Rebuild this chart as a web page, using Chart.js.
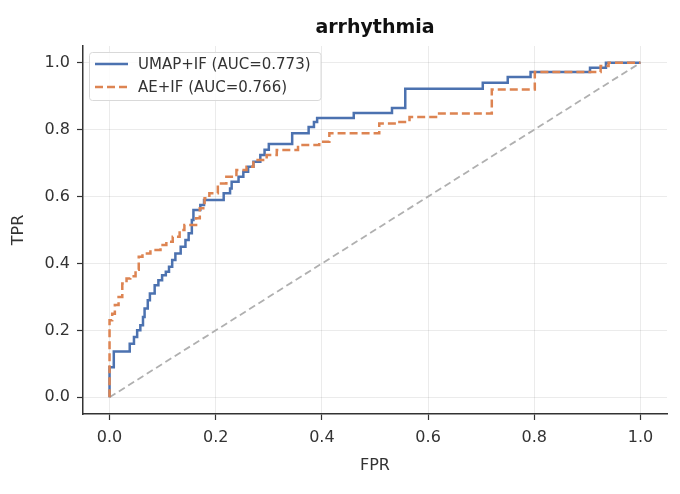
<!DOCTYPE html>
<html>
<head>
<meta charset="utf-8">
<script src="https://cdn.jsdelivr.net/npm/chart.js@4/dist/chart.umd.min.js"></script>
<style>
  html, body { margin: 0; padding: 0; background: #fff; }
  #wrap { width: 680px; height: 494px; }
</style>
</head>
<body>
<div id="wrap"><canvas id="roc"></canvas></div>
<script>
// ROC data
var chartTitle = "arrhythmia";
var tickValues = [0.0, 0.2, 0.4, 0.6, 0.8, 1.0];

var umapLabel = "UMAP+IF (AUC=0.773)";
var umapFpr = [0, 0, 0.008, 0.03, 0.038, 0.046, 0.052, 0.058, 0.063, 0.066, 0.072, 0.076, 0.085, 0.092, 0.099, 0.106, 0.112, 0.118, 0.124, 0.134, 0.143, 0.149, 0.155, 0.158, 0.168, 0.171, 0.178, 0.212, 0.215, 0.227, 0.23, 0.243, 0.252, 0.261, 0.271, 0.284, 0.292, 0.3, 0.344, 0.369, 0.375, 0.385, 0.391, 0.457, 0.46, 0.529, 0.532, 0.553, 0.557, 0.701, 0.703, 0.748, 0.75, 0.79, 0.793, 0.902, 0.905, 0.93, 0.935, 1.0];
var umapTpr = [0, 0.09, 0.137, 0.137, 0.16, 0.18, 0.2, 0.215, 0.24, 0.265, 0.29, 0.31, 0.335, 0.35, 0.365, 0.375, 0.39, 0.41, 0.43, 0.45, 0.47, 0.49, 0.53, 0.56, 0.56, 0.575, 0.59, 0.59, 0.61, 0.624, 0.644, 0.659, 0.674, 0.689, 0.704, 0.724, 0.74, 0.757, 0.789, 0.789, 0.808, 0.823, 0.835, 0.835, 0.85, 0.85, 0.865, 0.865, 0.922, 0.922, 0.94, 0.94, 0.957, 0.957, 0.972, 0.972, 0.985, 0.985, 1.0, 1.0];

var aeLabel = "AE+IF (AUC=0.766)";
var aeFpr = [0, 0, 0.005, 0.01, 0.017, 0.024, 0.032, 0.039, 0.049, 0.055, 0.062, 0.077, 0.096, 0.107, 0.119, 0.132, 0.141, 0.163, 0.17, 0.179, 0.188, 0.204, 0.22, 0.239, 0.258, 0.271, 0.296, 0.315, 0.355, 0.395, 0.414, 0.503, 0.508, 0.546, 0.565, 0.615, 0.71, 0.72, 0.795, 0.801, 0.905, 0.925, 0.94, 1.0];
var aeTpr = [0, 0.23, 0.25, 0.276, 0.3, 0.34, 0.355, 0.362, 0.381, 0.42, 0.43, 0.44, 0.455, 0.465, 0.48, 0.5, 0.515, 0.535, 0.565, 0.595, 0.61, 0.639, 0.659, 0.679, 0.689, 0.709, 0.724, 0.739, 0.754, 0.764, 0.789, 0.789, 0.818, 0.823, 0.838, 0.848, 0.848, 0.92, 0.92, 0.972, 0.972, 0.99, 1.0, 1.0];

var chanceFpr = [0, 1];
var chanceTpr = [0, 1];

var blue = "#4c72b0";
var orange = "#dd8452";
var fontName = "'DejaVu Sans', sans-serif";

function toPoints(xs, ys) {
	var pts = [];
	for (var i = 0; i < xs.length; i++) {
		pts.push({ x : xs[i], y : ys[i] });
	}
	return pts;
}

// title + legend drawn inside the plot, matplotlib style
var overlay = {
	id : "overlay",
	afterDraw : function(chart) {
		var ctx = chart.ctx;
		var a = chart.chartArea;
		ctx.save();

		ctx.font = "bold 19px " + fontName;
		ctx.fillStyle = "#111";
		ctx.textAlign = "center";
		ctx.textBaseline = "middle";
		ctx.fillText(chartTitle, (a.left + a.right) / 2, 28);

		var items = [
			{ text : umapLabel, color : blue, dash : [] },
			{ text : aeLabel, color : orange, dash : [8, 4] }
		];
		ctx.font = "15px " + fontName;
		var maxW = 0;
		items.forEach(function(it) { maxW = Math.max(maxW, ctx.measureText(it.text).width); });
		var bx = a.left + 6, by = a.top + 6;
		var bw = 49 + maxW + 10, bh = 48;
		ctx.beginPath();
		ctx.roundRect(bx + 0.5, by + 0.5, bw, bh, 3);
		ctx.fillStyle = "rgba(255,255,255,0.85)";
		ctx.fill();
		ctx.strokeStyle = "#d9d9d9";
		ctx.lineWidth = 1;
		ctx.stroke();

		ctx.textAlign = "left";
		items.forEach(function(it, i) {
			var y = by + 12 + i * 23;
			ctx.beginPath();
			ctx.setLineDash(it.dash);
			ctx.strokeStyle = it.color;
			ctx.lineWidth = 2.5;
			ctx.moveTo(bx + 6, y);
			ctx.lineTo(bx + 39, y);
			ctx.stroke();
			ctx.setLineDash([]);
			ctx.fillStyle = "#333";
			ctx.fillText(it.text, bx + 49, y + 1);
		});
		ctx.restore();
	}
};

function axisOptions(label, isY) {
	var opts = {
		type : "linear",
		min : -0.05,
		max : 1.05,
		afterBuildTicks : function(scale) {
			scale.ticks = tickValues.map(function(v) { return { value : v }; });
		},
		ticks : {
			callback : function(v) { return v.toFixed(1); },
			font : { family : fontName, size : 16 },
			color : "#333",
			padding : isY ? 7 : 8,
			maxRotation : 0,
			autoSkip : false
		},
		grid : {
			color : "rgba(0,0,0,0.08)",
			lineWidth : 1,
			tickColor : "#333",
			tickLength : 6,
			tickWidth : 1.2
		},
		border : { display : true, color : "#333", width : 1.5 },
		title : {
			display : true,
			text : label,
			color : "#333",
			font : { family : fontName, size : 16 },
			padding : isY ? { top : 9, bottom : 0 } : { top : 0, bottom : 19 }
		},
		afterFit : function(scale) {
			if (isY) { scale.width = 83; } else { scale.height = 80; }
		}
	};
	return opts;
}

var ctx = document.getElementById("roc");

var data = {
	datasets : [
		{
			label : aeLabel,
			data : toPoints(aeFpr, aeTpr),
			borderColor : orange,
			backgroundColor : orange,
			borderWidth : 2.5,
			borderDash : [8, 4],
			borderCapStyle : "butt",
			stepped : "before",
			showLine : true,
			pointRadius : 0,
			order : 1
		},
		{
			label : umapLabel,
			data : toPoints(umapFpr, umapTpr),
			borderColor : blue,
			backgroundColor : blue,
			borderWidth : 2.5,
			stepped : "before",
			showLine : true,
			pointRadius : 0,
			order : 2
		},
		{
			label : "chance",
			data : toPoints(chanceFpr, chanceTpr),
			borderColor : "#b0b0b0",
			borderWidth : 1.8,
			borderDash : [7, 4],
			showLine : true,
			pointRadius : 0,
			order : 3
		}
	]
};

var chart = new Chart(ctx, {
	type : "scatter",
	data : data,
	options : {
		responsive : true,
		maintainAspectRatio : false,
		animation : false,
		layout : { padding : { top : 46, right : 13, left : 0, bottom : 0 } },
		plugins : {
			legend : { display : false },
			title : { display : false },
			tooltip : { enabled : false }
		},
		scales : {
			x : axisOptions("FPR", false),
			y : axisOptions("TPR", true)
		}
	},
	plugins : [overlay]
});
</script>
</body>
</html>
